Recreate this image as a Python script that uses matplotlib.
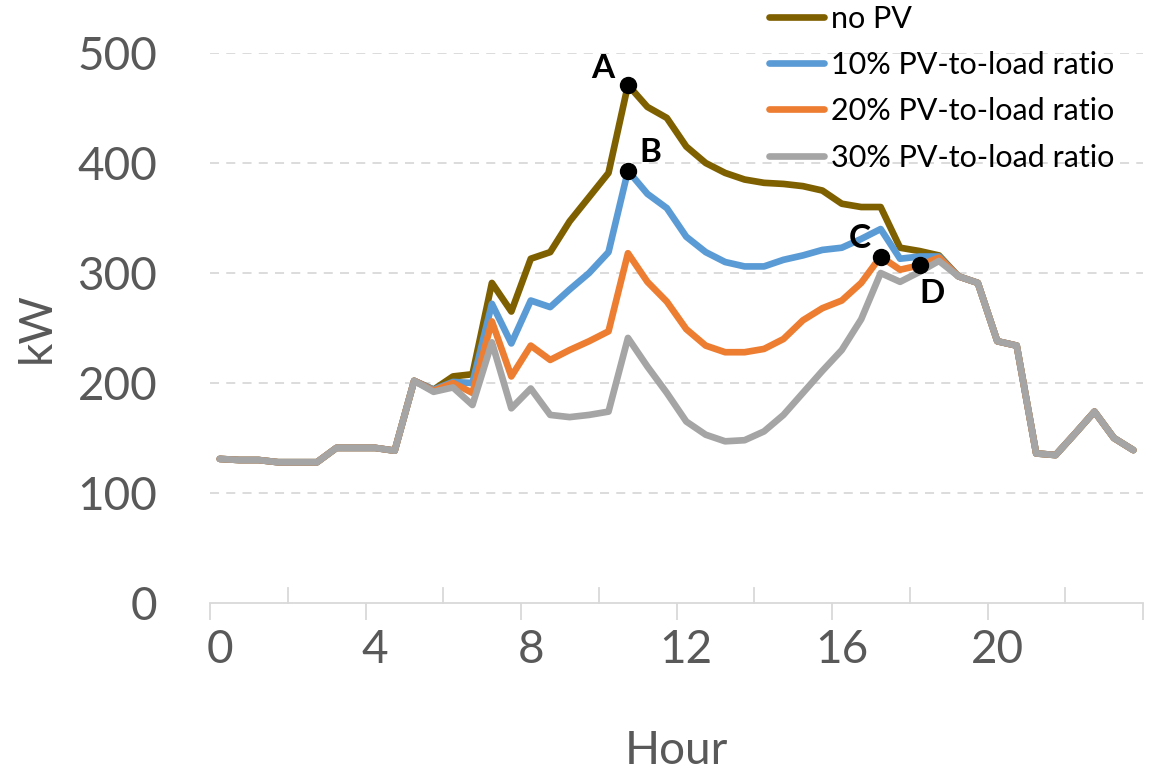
import numpy as np
import matplotlib; matplotlib.use("Agg"); import matplotlib.pyplot as plt

# half-hourly load profile (48 points), kW
common_am = [131, 130, 130, 128, 128, 128, 141, 141, 141, 138.5, 202]
common_pm = [297, 291, 238, 234, 136, 134.5, 154, 174, 150, 139]

no_pv = common_am + [194, 206, 208, 291, 265, 313, 319, 347, 369, 391, 471, 451, 441, 415, 400,
                     391, 385, 382, 381, 379, 375, 363, 360, 360, 323, 320, 316] + common_pm
pv10 = common_am + [194, 201, 200, 272, 236, 275, 269, 285, 300, 319, 393, 372, 359, 333, 319,
                    310, 306, 306, 312, 316, 321, 323, 331, 340, 313, 315, 315] + common_pm
pv20 = common_am + [193, 200, 191, 256, 206, 234, 221, 230, 238, 247, 318, 292, 274, 249, 234,
                    228, 228, 231, 240, 257, 268, 275, 291, 315, 303, 307, 314] + common_pm
pv30 = common_am + [192, 196, 180, 237, 177, 195, 171, 169, 171, 174, 241, 215, 191, 165, 153,
                    147, 148, 156, 171, 191, 211, 230, 258, 300, 292, 301, 311] + common_pm

hours = np.arange(48) * 0.5 + 0.25          # category centres, Excel-style
series = [("no PV", no_pv, "#7F6000"),
          ("10% PV-to-load ratio", pv10, "#5B9BD5"),
          ("20% PV-to-load ratio", pv20, "#ED7D31"),
          ("30% PV-to-load ratio", pv30, "#A5A5A5")]
# labelled points: (label, series index, sample index, text offset in pt)
marks = [("A", 0, 21, (-18, 12)), ("B", 1, 21, (16, 13)),
         ("C", 2, 34, (-15, 13)), ("D", 2, 36, (9, -20))]

plt.rcParams["font.family"] = ["Lato", "DejaVu Sans"]
GRAY, TXT = "#D9D9D9", "#595959"

fig = plt.figure(figsize=(11.56, 7.72), dpi=100)
ax = fig.add_axes([0.1817, 0.2189, 0.8071, 0.7124])
for nm, v, col in series:
    ax.plot(hours, v, color=col, lw=4.8, label=nm, solid_capstyle="round", solid_joinstyle="round")

for lab, s, i, off in marks:
    y = series[s][1][i]
    ax.plot(hours[i], y, "o", color="black", ms=11.5, zorder=5)
    ax.annotate(lab, (hours[i], y), xytext=off, textcoords="offset points",
                ha="center", va="center", fontsize=24, fontweight="bold")

ax.set_xlim(0, 24); ax.set_ylim(0, 500)
ax.set_yticks(range(0, 501, 100))
for yv in range(100, 501, 100):
    ax.axhline(yv, color=GRAY, lw=1.3, ls=(0, (5, 4)), zorder=0)
ax.tick_params(axis="y", length=0, pad=38, labelsize=33, labelcolor=TXT)

ax.set_xticks(np.arange(0, 21, 4) + 0.25)
ax.set_xticklabels([str(h) for h in range(0, 21, 4)])
ax.set_xticks(np.arange(0, 25, 4), minor=True)
ax.tick_params(axis="x", which="major", length=0, pad=19, labelsize=33, labelcolor=TXT)
ax.tick_params(axis="x", which="minor", length=12, width=1.3, color=GRAY, direction="out")
for xv in np.arange(2, 24, 4):
    ax.plot([xv, xv], [0, 0.028], color=GRAY, lw=1.3, transform=ax.get_xaxis_transform(), clip_on=False)

for s in ("top", "right", "left"): ax.spines[s].set_visible(False)
ax.spines["bottom"].set_color(GRAY); ax.spines["bottom"].set_linewidth(1.3)

ax.set_xlabel("Hour", fontsize=33, color=TXT, labelpad=42)
ax.set_ylabel("kW", fontsize=33, color=TXT)
ax.yaxis.set_label_coords(-0.163, 0.5)

h, l = ax.get_legend_handles_labels()
fig.legend(h, l, loc="upper left", bbox_to_anchor=(0.655, 1.01), frameon=False,
           fontsize=22, handlelength=1.8, handletextpad=0.2, labelspacing=0.6, borderaxespad=0)

fig.savefig("out.png", dpi=100)
